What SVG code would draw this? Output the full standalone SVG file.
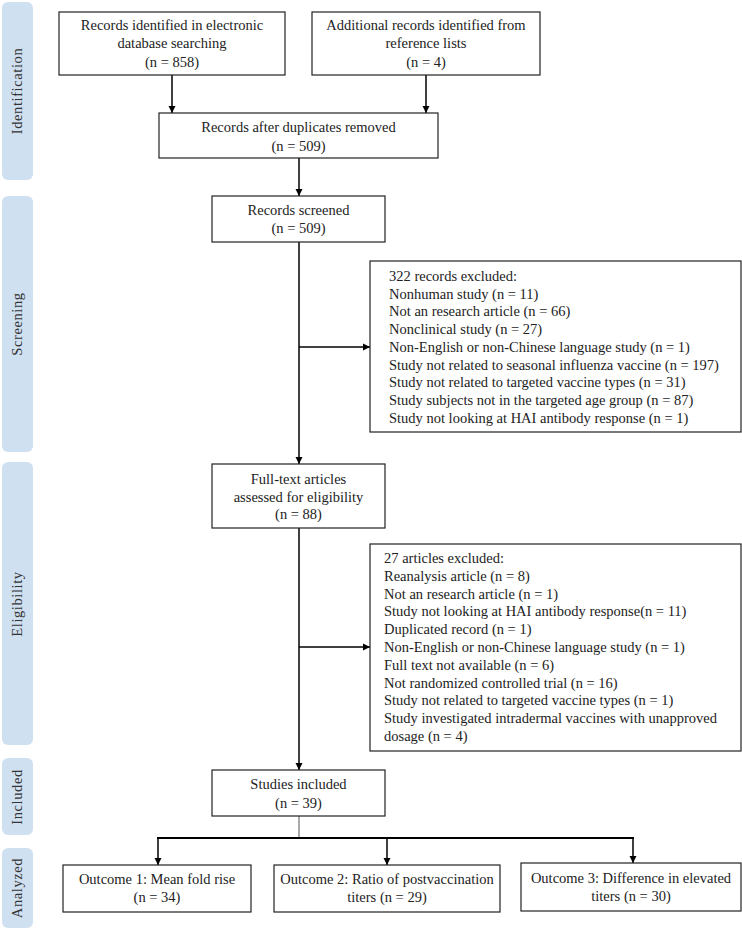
<svg xmlns="http://www.w3.org/2000/svg" width="742" height="929" viewBox="0 0 742 929">
<defs>
<style>
.band{fill:#cfe0f1;}
.bl{font-family:"Liberation Serif",serif;font-size:14.5px;fill:#333;text-anchor:middle;letter-spacing:0.6px;}
.box{fill:#fff;stroke:#222;stroke-width:1.2;}
.t{font-family:"Liberation Serif",serif;font-size:14.5px;fill:#222;}
.c{text-anchor:middle;}
.ln{fill:none;stroke:#000;stroke-width:1.5;}
</style>
<marker id="ah" viewBox="0 0 10 10" refX="10" refY="5" markerWidth="7" markerHeight="8" markerUnits="userSpaceOnUse" orient="auto"><path d="M0,0 L10,5 L0,10 z" fill="#000"/></marker>
</defs>
<rect width="742" height="929" fill="#fff"/>
<g id="bands">
<rect class="band" x="2" y="2" width="31" height="178" rx="6"/>
<rect class="band" x="2" y="196" width="31" height="256" rx="6"/>
<rect class="band" x="2" y="462" width="31" height="283" rx="6"/>
<rect class="band" x="2" y="758" width="31" height="77" rx="6"/>
<rect class="band" x="2" y="848" width="31" height="80" rx="6"/>
<text class="bl" transform="translate(22,91) rotate(-90)">Identification</text>
<text class="bl" transform="translate(22,324) rotate(-90)">Screening</text>
<text class="bl" transform="translate(22,604) rotate(-90)">Eligibility</text>
<text class="bl" transform="translate(22,797) rotate(-90)">Included</text>
<text class="bl" transform="translate(22,888) rotate(-90)">Analyzed</text>
</g>
<g id="connectors">
<line class="ln" x1="172" y1="75" x2="172" y2="113" marker-end="url(#ah)"/>
<line class="ln" x1="426" y1="75" x2="426" y2="113" marker-end="url(#ah)"/>
<line class="ln" x1="299" y1="158" x2="299" y2="196" marker-end="url(#ah)"/>
<line class="ln" x1="299" y1="242" x2="299" y2="464" marker-end="url(#ah)"/>
<line class="ln" x1="299" y1="347" x2="370" y2="347" marker-end="url(#ah)"/>
<line class="ln" x1="299" y1="528" x2="299" y2="770" marker-end="url(#ah)"/>
<line class="ln" x1="299" y1="647" x2="370" y2="647" marker-end="url(#ah)"/>
<line x1="299" y1="816" x2="299" y2="838" stroke="#555" stroke-width="1"/>
<line x1="157" y1="838" x2="634" y2="838" stroke="#000" stroke-width="2"/>
<line class="ln" x1="158" y1="838" x2="158" y2="865" marker-end="url(#ah)"/>
<line class="ln" x1="387" y1="838" x2="387" y2="865" marker-end="url(#ah)"/>
<line class="ln" x1="633" y1="838" x2="633" y2="863" marker-end="url(#ah)"/>
</g>
<g id="n1">
<rect class="box" x="59" y="12" width="226" height="63"/>
<text class="t c" x="172" y="30">Records identified in electronic</text>
<text class="t c" x="172" y="48">database searching</text>
<text class="t c" x="172" y="67">(n = 858)</text>
</g>
<g id="n2">
<rect class="box" x="312" y="12" width="228" height="63"/>
<text class="t c" x="426" y="30">Additional records identified from</text>
<text class="t c" x="426" y="48">reference lists</text>
<text class="t c" x="426" y="67">(n = 4)</text>
</g>
<g id="n3">
<rect class="box" x="159" y="113" width="279" height="45"/>
<text class="t c" x="298.5" y="132">Records after duplicates removed</text>
<text class="t c" x="298.5" y="151">(n = 509)</text>
</g>
<g id="n4">
<rect class="box" x="212" y="196" width="173" height="46"/>
<text class="t c" x="298.5" y="215">Records screened</text>
<text class="t c" x="298.5" y="233">(n = 509)</text>
</g>
<g id="n5">
<rect class="box" x="370" y="261" width="371" height="171"/>
<text class="t" x="389" y="281">322 records excluded:</text>
<text class="t" x="389" y="298.7">Nonhuman study (n = 11)</text>
<text class="t" x="389" y="316.4">Not an research article (n = 66)</text>
<text class="t" x="389" y="334.1">Nonclinical study (n = 27)</text>
<text class="t" x="389" y="351.8">Non-English or non-Chinese language study (n = 1)</text>
<text class="t" x="389" y="369.5">Study not related to seasonal influenza vaccine (n = 197)</text>
<text class="t" x="389" y="387.2">Study not related to targeted vaccine types (n = 31)</text>
<text class="t" x="389" y="404.9">Study subjects not in the targeted age group (n = 87)</text>
<text class="t" x="389" y="422.6">Study not looking at HAI antibody response (n = 1)</text>
</g>
<g id="n6">
<rect class="box" x="212" y="464" width="173" height="64"/>
<text class="t c" x="298.5" y="484">Full-text articles</text>
<text class="t c" x="298.5" y="502">assessed for eligibility</text>
<text class="t c" x="298.5" y="519">(n = 88)</text>
</g>
<g id="n7">
<rect class="box" x="370" y="544" width="371" height="207"/>
<text class="t" x="384" y="563">27 articles excluded:</text>
<text class="t" x="384" y="580.8">Reanalysis article (n = 8)</text>
<text class="t" x="384" y="598.6">Not an research article (n = 1)</text>
<text class="t" x="384" y="616.4">Study not looking at HAI antibody response(n = 11)</text>
<text class="t" x="384" y="634.2">Duplicated record (n = 1)</text>
<text class="t" x="384" y="652">Non-English or non-Chinese language study (n = 1)</text>
<text class="t" x="384" y="669.8">Full text not available (n = 6)</text>
<text class="t" x="384" y="687.6">Not randomized controlled trial (n = 16)</text>
<text class="t" x="384" y="705.4">Study not related to targeted vaccine types (n = 1)</text>
<text class="t" x="384" y="723.2">Study investigated intradermal vaccines with unapproved</text>
<text class="t" x="384" y="741">dosage (n = 4)</text>
</g>
<g id="n8">
<rect class="box" x="212" y="770" width="173" height="46"/>
<text class="t c" x="298.5" y="789">Studies included</text>
<text class="t c" x="298.5" y="808">(n = 39)</text>
</g>
<g id="n9">
<rect class="box" x="63" y="865" width="188" height="47"/>
<text class="t c" x="157" y="884">Outcome 1: Mean fold rise</text>
<text class="t c" x="157" y="902">(n = 34)</text>
</g>
<g id="n10">
<rect class="box" x="274" y="865" width="226" height="47"/>
<text class="t c" x="387" y="884">Outcome 2: Ratio of postvaccination</text>
<text class="t c" x="387" y="902">titers (n = 29)</text>
</g>
<g id="n11">
<rect class="box" x="521" y="863" width="220" height="48"/>
<text class="t c" x="631" y="883">Outcome 3: Difference in elevated</text>
<text class="t c" x="631" y="901">titers (n = 30)</text>
</g>
</svg>
